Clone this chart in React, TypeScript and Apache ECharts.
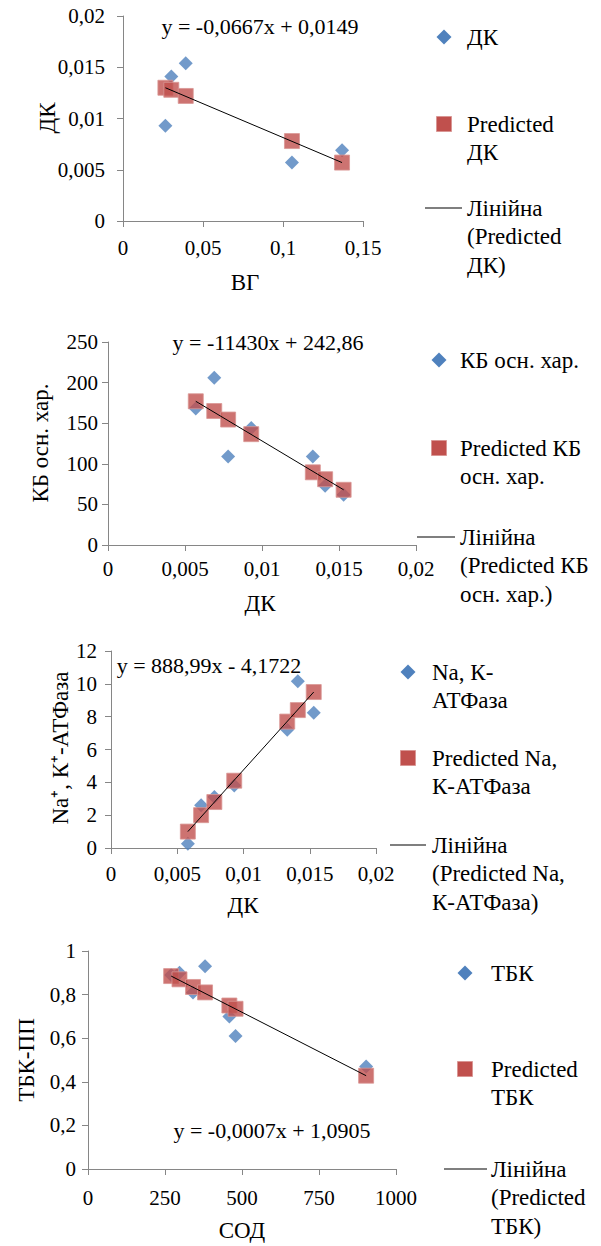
import React, { useEffect, useRef } from "react";
import * as echarts from "echarts";

const FONT = "Liberation Serif";
const BLUE = "#4F81BD";
const RED = "#C0504D";
const AXIS = "#868686";

// Panel 1: ВГ vs ДК
const p1X = [0.0265, 0.0302, 0.0392, 0.1056, 0.1369];
const p1Y = [0.0093, 0.0141, 0.0154, 0.0057, 0.0069];
const p1P = [0.013, 0.0128, 0.0122, 0.0078, 0.0057];
const p1Eq = "y = -0,0667x + 0,0149";
const p1Legend = [["ДК"], ["Predicted", "ДК"], ["Лінійна", "(Predicted", "ДК)"]];

// Panel 2: ДК vs КБ осн. хар.
const p2X = [0.0057, 0.0069, 0.0078, 0.0093, 0.0133, 0.0141, 0.0153];
const p2Y = [168, 206, 109, 144, 109, 73, 62];
const p2P = [177, 165, 154.5, 136.5, 89.5, 81, 68];
const p2Eq = "y = -11430x + 242,86";
const p2Legend = [["КБ осн. хар."], ["Predicted КБ", "осн. хар."], ["Лінійна", "(Predicted КБ", "осн. хар.)"]];

// Panel 3: ДК vs Na+, K+-АТФаза
const p3X = [0.0058, 0.0068, 0.0078, 0.0093, 0.0133, 0.0141, 0.0153];
const p3Y = [0.26, 2.6, 3.1, 3.8, 7.2, 10.15, 8.24];
const p3P = [1.0, 2.0, 2.8, 4.1, 7.7, 8.4, 9.5];
const p3Eq = "y = 888,99x - 4,1722";
const p3Legend = [["Na, К-", "АТФаза"], ["Predicted Na,", "К-АТФаза"], ["Лінійна", "(Predicted Na,", "К-АТФаза)"]];

// Panel 4: СОД vs ТБК-ПП
const p4X = [270, 297, 341, 380, 459, 479, 903];
const p4Y = [0.89, 0.9, 0.81, 0.93, 0.7, 0.61, 0.47];
const p4P = [0.885, 0.87, 0.835, 0.81, 0.75, 0.735, 0.428];
const p4Eq = "y = -0,0007x + 1,0905";
const p4Legend = [["ТБК"], ["Predicted", "ТБК"], ["Лінійна", "(Predicted", "ТБК)"]];

const panels = [
  {
    xs: p1X, ys: p1Y, ps: p1P, eq: p1Eq, legend: p1Legend,
    xName: "ВГ", yName: "ДК",
    xMax: 0.15, xInt: 0.05, yMax: 0.02, yInt: 0.005,
    grid: { left: 123, top: 16, width: 240, height: 205 },
    xLabelMargin: 16, yLabelMargin: 18,
    eqPos: [260, 26],
    xTitle: [245, 282], yTitle: [47, 118],
    leg: { mx: 444, tx: 467, y: [37, 124, 208], lineX: [425, 462] },
  },
  {
    xs: p2X, ys: p2Y, ps: p2P, eq: p2Eq, legend: p2Legend,
    xName: "ДК", yName: "КБ осн. хар.",
    xMax: 0.02, xInt: 0.005, yMax: 250, yInt: 50,
    grid: { left: 108, top: 342, width: 308, height: 203 },
    xLabelMargin: 13, yLabelMargin: 10,
    eqPos: [268, 342],
    xTitle: [260, 603], yTitle: [40, 443],
    leg: { mx: 439, tx: 460, y: [360, 448, 537], lineX: [417, 455] },
  },
  {
    xs: p3X, ys: p3Y, ps: p3P, eq: p3Eq, legend: p3Legend,
    xName: "ДК", yName: "Na⁺, К⁺-АТФаза",
    xMax: 0.02, xInt: 0.005, yMax: 12, yInt: 2,
    grid: { left: 111, top: 651, width: 265, height: 197 },
    xLabelMargin: 15, yLabelMargin: 14,
    eqPos: [209, 665],
    xTitle: [243, 905], yTitle: [60, 748],
    leg: { mx: 408, tx: 432, y: [672, 758, 845], lineX: [390, 426] },
  },
  {
    xs: p4X, ys: p4Y, ps: p4P, eq: p4Eq, legend: p4Legend,
    xName: "СОД", yName: "ТБК-ПП",
    xMax: 1000, xInt: 250, yMax: 1, yInt: 0.2,
    grid: { left: 88, top: 951, width: 308, height: 218 },
    xLabelMargin: 18, yLabelMargin: 12,
    eqPos: [272, 1130],
    xTitle: [242, 1230], yTitle: [26, 1060],
    leg: { mx: 465, tx: 491, y: [973, 1069, 1169], lineX: [444, 487] },
  },
];

const fmt = (v: number) => {
  const r = Math.round(v * 100000) / 100000;
  return String(r).replace(".", ",");
};

function txt(x: number, y: number, text: string, size: number, align = "center", rotation = 0) {
  return {
    type: "text",
    x, y, rotation,
    style: {
      text,
      fontFamily: FONT,
      fontSize: size,
      fill: "#000",
      textAlign: align,
      textVerticalAlign: "middle",
    },
  };
}

export default function App() {
  const ref = useRef<HTMLDivElement>(null);
  useEffect(() => {
    const chart = echarts.init(ref.current!, null, { renderer: "svg" });
    const grid: any[] = [];
    const xAxis: any[] = [];
    const yAxis: any[] = [];
    const series: any[] = [];
    const graphic: any[] = [];
    const LH = 28.5;

    panels.forEach((p, i) => {
      grid.push({ ...p.grid, containLabel: false });
      const axisCommon = {
        type: "value",
        min: 0,
        splitLine: { show: false },
        axisLine: { show: true, lineStyle: { color: AXIS, width: 1 } },
        axisTick: { show: true, length: 6, lineStyle: { color: AXIS } },
      };
      xAxis.push({
        ...axisCommon,
        gridIndex: i,
        max: p.xMax,
        interval: p.xInt,
        axisLabel: { fontFamily: FONT, fontSize: 21, color: "#000", margin: p.xLabelMargin, formatter: fmt },
      });
      yAxis.push({
        ...axisCommon,
        gridIndex: i,
        max: p.yMax,
        interval: p.yInt,
        axisLabel: { fontFamily: FONT, fontSize: 21, color: "#000", margin: p.yLabelMargin, formatter: fmt },
      });
      series.push({
        type: "scatter",
        xAxisIndex: i, yAxisIndex: i,
        symbol: "diamond",
        symbolSize: 14,
        itemStyle: { color: BLUE },
        data: p.xs.map((x, k) => [x, p.ys[k]]),
        z: 2,
      });
      series.push({
        type: "scatter",
        xAxisIndex: i, yAxisIndex: i,
        symbol: "rect",
        symbolSize: 15,
        itemStyle: { color: RED, borderColor: "#D99694", borderWidth: 1 },
        data: p.xs.map((x, k) => [x, p.ps[k]]),
        z: 3,
      });
      const last = p.xs.length - 1;
      series.push({
        type: "line",
        xAxisIndex: i, yAxisIndex: i,
        symbol: "none",
        lineStyle: { color: "#000", width: 1 },
        data: [[p.xs[0], p.ps[0]], [p.xs[last], p.ps[last]]],
        z: 4,
      });

      graphic.push(txt(p.eqPos[0], p.eqPos[1], p.eq, 22));
      graphic.push(txt(p.xTitle[0], p.xTitle[1], p.xName, 23));
      graphic.push(txt(p.yTitle[0], p.yTitle[1], p.yName, 23, "center", Math.PI / 2));

      // legend
      const L = p.leg;
      const d = 7.5;
      graphic.push({
        type: "polygon",
        silent: true,
        shape: { points: [[L.mx, L.y[0] - d], [L.mx + d, L.y[0]], [L.mx, L.y[0] + d], [L.mx - d, L.y[0]]] },
        style: { fill: BLUE },
      });
      graphic.push({
        type: "rect",
        silent: true,
        shape: { x: L.mx - 7.5, y: L.y[1] - 7.5, width: 15, height: 15 },
        style: { fill: RED, stroke: "#D99694", lineWidth: 1 },
      });
      graphic.push({
        type: "line",
        silent: true,
        shape: { x1: L.lineX[0], y1: L.y[2], x2: L.lineX[1], y2: L.y[2] },
        style: { stroke: "#000", lineWidth: 1.2 },
      });
      p.legend.forEach((lines, li) => {
        lines.forEach((t, k) => {
          graphic.push(txt(L.tx, L.y[li] + k * LH, t, 23, "left"));
        });
      });
    });

    chart.setOption({
      animation: false,
      grid, xAxis, yAxis, series, graphic,
    });
    return () => chart.dispose();
  }, []);
  return <div ref={ref} style={{ position: "absolute", left: 0, top: 0, width: 601, height: 1246, background: "#fff" }} />;
}
